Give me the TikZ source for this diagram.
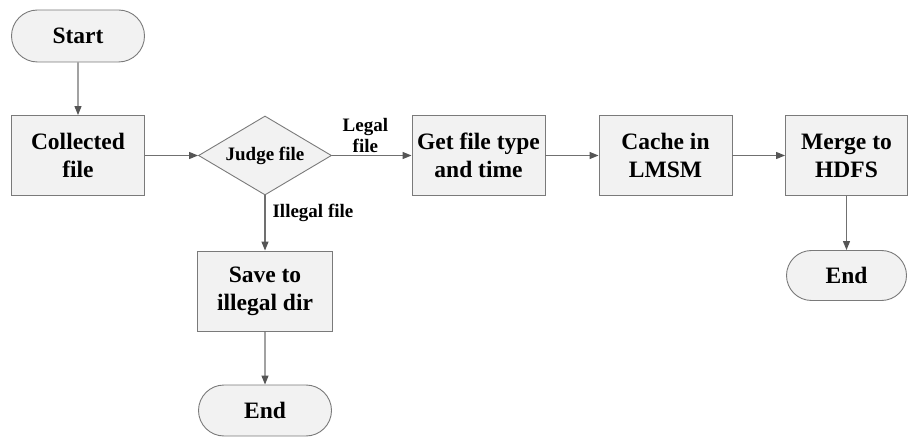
\documentclass[tikz,border=0pt]{standalone}
\usepackage{fontspec}
\setmainfont{Liberation Serif}
\usetikzlibrary{arrows.meta}
\usetikzlibrary{positioning,shapes}

\definecolor{linegray}{HTML}{707070}
\definecolor{tipgray}{HTML}{555555}
\definecolor{boxgray}{HTML}{7A7A7A}
\definecolor{boxfill}{HTML}{F2F2F2}

\begin{document}
\begin{tikzpicture} [->,auto,x=1pt,y=1pt,node distance=187pt,
  >={Triangle[length=9pt,width=7pt,color=tipgray]},
  every edge/.append style={draw=linegray,line width=1.2pt},
  block/.style={rectangle,draw=boxgray,fill=boxfill,line width=0.9pt,
    minimum width=133pt,minimum height=80pt,inner sep=1pt,align=center,
    font=\bfseries\fontsize{23.5}{28}\selectfont},
  term/.style={rounded rectangle,draw=boxgray,fill=boxfill,line width=0.9pt,
    minimum width=135pt,minimum height=52pt,inner sep=1pt,
    font=\bfseries\fontsize{23.5}{28}\selectfont},
  judge/.style={diamond,draw=boxgray,fill=boxfill,line width=0.9pt,
    minimum width=133pt,minimum height=79pt,inner sep=1pt,aspect=1.7,
    font=\bfseries\fontsize{19}{21}\selectfont}]

  \useasboundingbox (0,0) rectangle (910,-438);

  \node[term] (1) at (78,-36) {Start};
  \node[block] (2) [below of=1, node distance=119.5pt] {Collected\\file};
  \node[judge] (3) [right of=2] {Judge file};
  \node[block] (4) [right of=3, node distance=213.5pt] {Get file type\\and time};
  \node[block] (5) [right of=4] {Cache in\\LMSM};
  \node[block, minimum width=122pt] (6) [right of=5, node distance=181pt] {Merge to\\HDFS};
  \node[term, minimum width=122pt, minimum height=50pt] (7) [below of=6, node distance=120pt] {End};
  \node[block, minimum width=135pt] (8) [below of=3, node distance=135.5pt] {Save to\\illegal dir};
  \node[term, minimum height=51pt] (9) [below of=8, node distance=119.5pt] {End};

  \path[every node/.style={font=\bfseries\fontsize{19}{21}\selectfont}]
    (1) edge (2)
    (2) edge (3)
    (3) edge node [align=center, pos=0.42, inner sep=2pt] {Legal\\file} (4)
    (4) edge (5)
    (5) edge (6)
    (6) edge (7)
    (3) edge node [pos=0.32, inner sep=7pt] {Illegal file} (8)
    (8) edge (9);

\end{tikzpicture}
\end{document}
